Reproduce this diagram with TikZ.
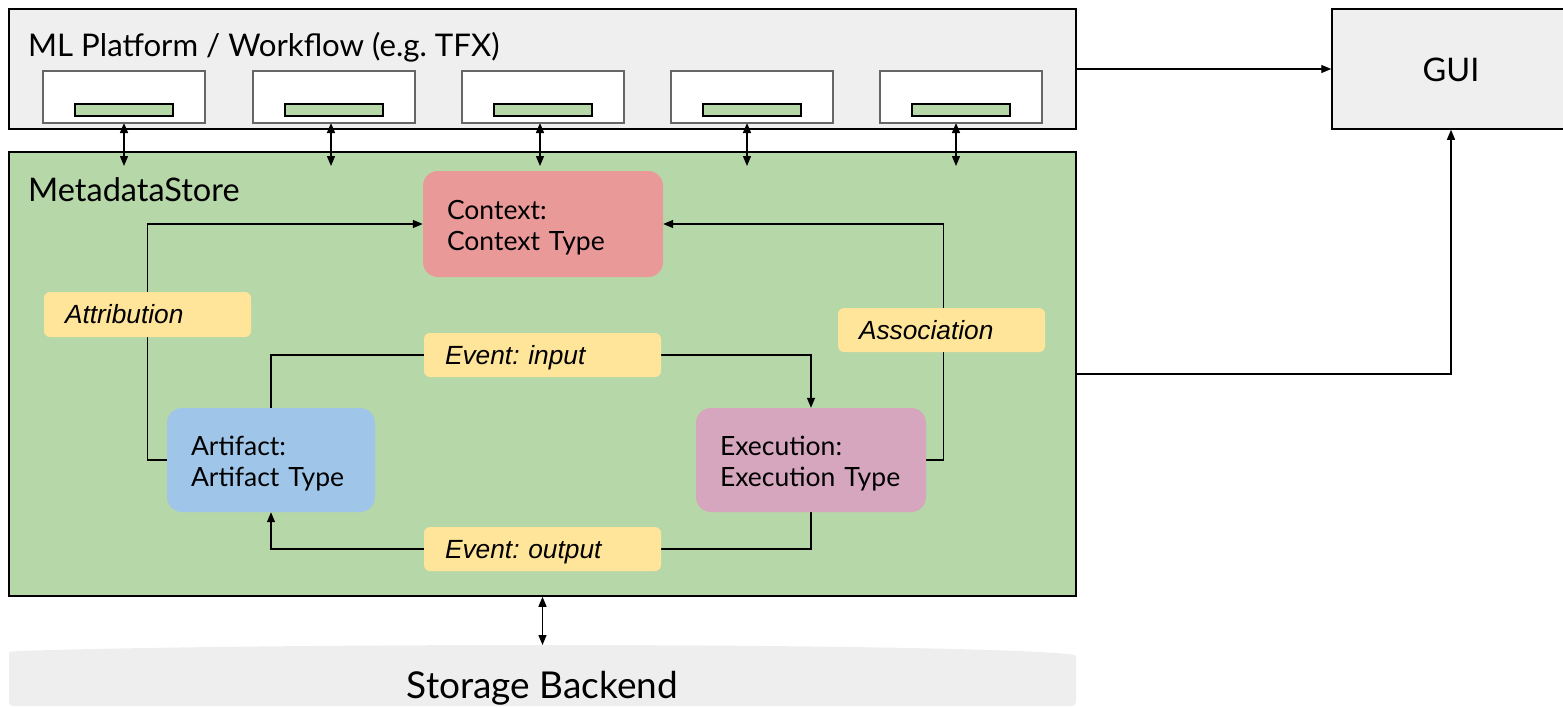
\documentclass[tikz,border=0pt]{standalone}
\usepackage{fontspec}
\setmainfont{Lato}
\newfontfamily\tagfont{Liberation Sans}
\usetikzlibrary{arrows.meta}
\definecolor{panelgray}{HTML}{EFEFEF}
\definecolor{storegreen}{HTML}{B6D7A8}
\definecolor{ctxred}{HTML}{EA9999}
\definecolor{artblue}{HTML}{9FC5E8}
\definecolor{execpink}{HTML}{D5A6BD}
\definecolor{tagyellow}{HTML}{FFE599}
\definecolor{slotgray}{HTML}{666666}
\definecolor{diskgray}{HTML}{EEEEEE}
\pgfdeclarelayer{back}
\pgfdeclarelayer{wires}
\pgfsetlayers{back,wires,main}
\frenchspacing
% raises the top of a two-line entity label so the lines sit a little lower
\newcommand{\highstrut}{\rule{0pt}{26pt}}
\tikzset{
  panel/.style={draw=black, line width=1.5pt, fill=panelgray, inner sep=0pt},
  storebox/.style={draw=black, line width=1.5pt, fill=storegreen, inner sep=0pt},
  slot/.style={draw=slotgray, line width=1.5pt, fill=white, inner sep=0pt,
    minimum width=162pt, minimum height=52pt},
  bar/.style={draw=black, line width=1.3pt, fill=storegreen, inner sep=0pt,
    minimum width=98pt, minimum height=12pt},
  bigtext/.style={font=\fontsize{32}{38}\selectfont, inner sep=0pt},
  entity/.style={rounded corners=15pt, inner xsep=24pt, inner ysep=0pt, align=left,
    font=\fontsize{26.5}{31}\selectfont},
  tag/.style={fill=tagyellow, rounded corners=6pt, inner xsep=21pt, inner ysep=0pt,
    align=left, text height=18.6pt, text depth=0pt,
    font=\tagfont\itshape\fontsize{26.3}{30}\selectfont},
  conn/.style={line width=1.3pt, -{Triangle[length=10pt,width=8pt]}},
  dconn/.style={line width=1.3pt, {Triangle[length=10pt,width=8pt]}-{Triangle[length=10pt,width=8pt]}},
}
\begin{document}
\begin{tikzpicture}[x=1pt,y=-1pt]
\useasboundingbox (0,0) rectangle (1563,707);

% outer containers
\begin{pgfonlayer}{back}
  \node[panel, minimum width=1067pt, minimum height=120pt] (platform) at (542.5,69) {};
  \node[storebox, minimum width=1067pt, minimum height=444pt] (store) at (542.5,374) {};
  \node[panel, minimum width=238pt, minimum height=120pt] (gui) at (1451,69) {};
  % storage backend disk slab
  \fill[diskgray, rounded corners=4pt]
    (9,706) -- (9,656) [sharp corners]
    .. controls (9,649.9) and (248,645) .. (542.5,645)
    .. controls (837,645) and (1076,649.9) .. (1076,656)
    [rounded corners=4pt] -- (1076,706) -- cycle;
\end{pgfonlayer}

\node[bigtext, font=\fontsize{31.2}{38}\selectfont, anchor=base west] (platformtitle) at (28,56) {ML Platform / Workflow (e.g. TFX)};
\node[bigtext, font=\fontsize{32.5}{38}\selectfont, anchor=base west] (storetitle) at (28,201) {MetadataStore};
\node[bigtext, font=\fontsize{32.5}{38}\selectfont] (guitext) at (1451,70) {GUI};
\node[font=\fontsize{37}{42}\selectfont, inner sep=0pt, anchor=base] (storagetext) at (542.5,698) {Storage Backend};
\coordinate (disktop) at (542.5,645);

% pipeline component slots, each with its metadata client bar
\foreach \i/\cx/\ax in {1/124/124, 2/334/331, 3/543/540, 4/752/747, 5/961/956} {
  \node[slot] (slot\i) at (\cx,97) {};
  \node[bar] (bar\i) at (\cx,110) {};
  \coordinate (slottop\i) at (\ax,123);
  \coordinate (slotlink\i) at (\ax,166);
}

% entities
\node[entity, fill=ctxred, text width=192pt, minimum height=106pt] (context) at (543,224)
  {\highstrut Context:\\Context Type};
\node[entity, fill=artblue, text width=160pt, minimum height=104pt] (artifact) at (271,460)
  {\highstrut Artifact:\\Artifact Type};
\node[entity, fill=execpink, text width=182pt, minimum height=104pt] (execution) at (811,460)
  {\highstrut Execution:\\Execution Type};

% relation labels
\node[tag, text width=165pt, minimum height=45pt] (attribution) at (147.5,314.5) {Attribution};
\node[tag, text width=195pt, minimum height=44pt] (eventin) at (542.5,355) {Event: input};
\node[tag, text width=195pt, minimum height=44pt] (eventout) at (542.5,549) {Event: output};
\node[tag, text width=165pt, minimum height=44pt] (association) at (941.5,330) {Association};

% connectors
\begin{pgfonlayer}{wires}
  \foreach \i in {1,...,5} {
    \draw[dconn] (slottop\i) -- (slotlink\i);
  }
  \draw[conn] (artifact.west) -- ++(-19,0) |- (context.west);
  \draw[conn] (execution.east) -- ++(17,0) |- (context.east);
  \draw[conn] (artifact.north) |- (eventin.center) -| (execution.north);
  \draw[conn] (execution.south) |- (eventout.center) -| (artifact.south);
  \draw[conn] (platform.east) -- (gui.west);
  \draw[conn] (store.east) -| (gui.south);
  \draw[dconn] (store.south) -- (disktop);
\end{pgfonlayer}
\end{tikzpicture}
\end{document}
